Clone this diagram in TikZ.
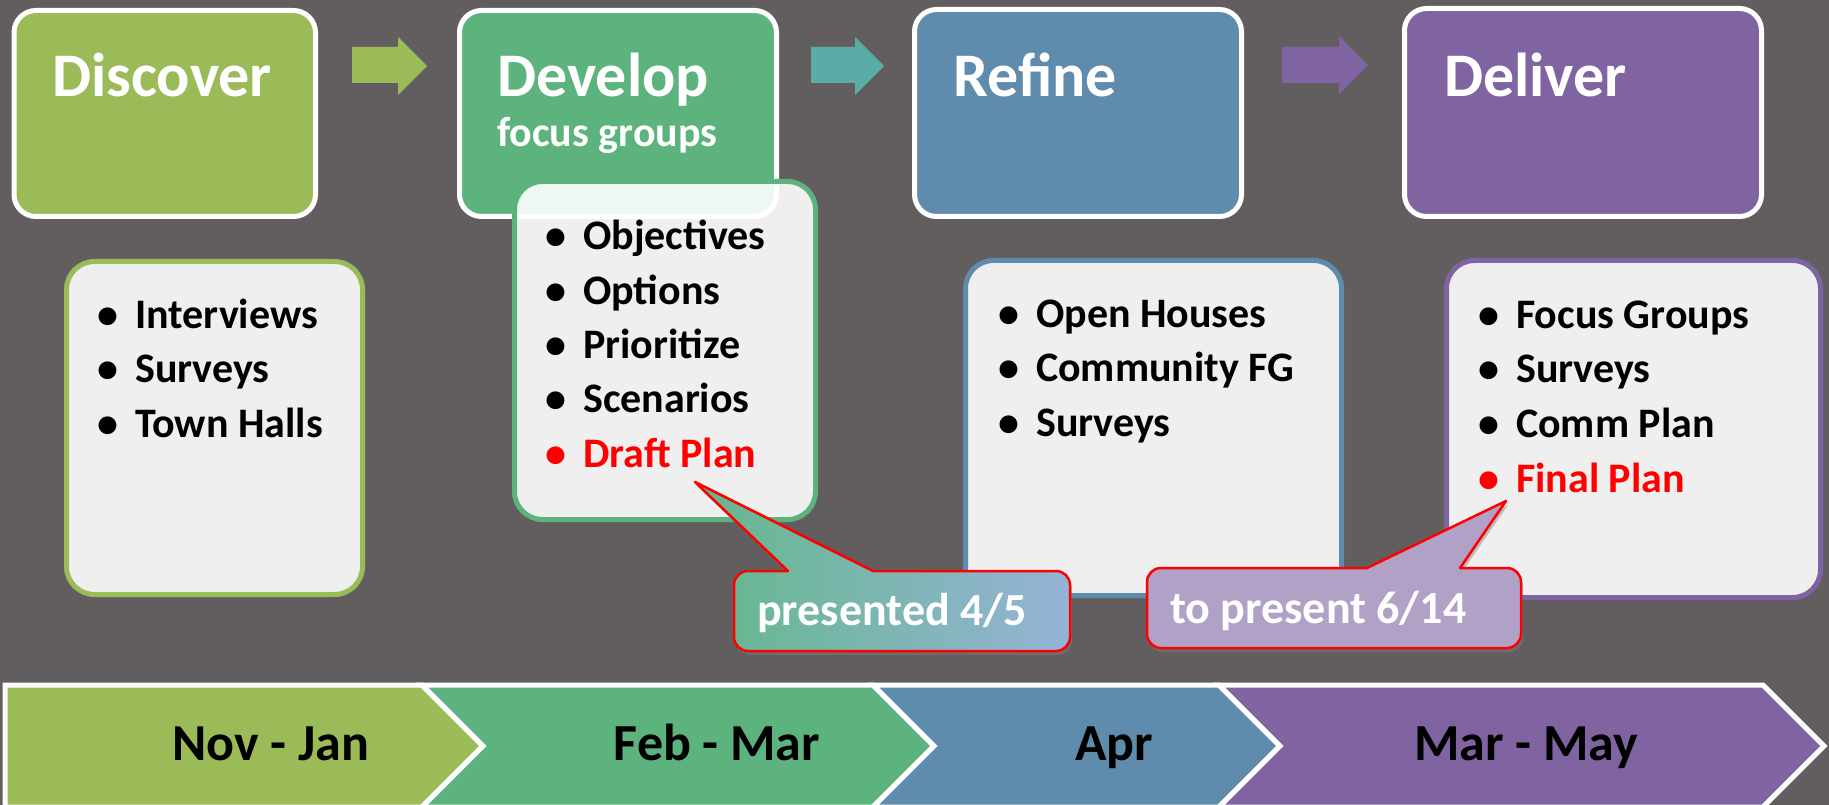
\documentclass[tikz,border=0pt]{standalone}
\usepackage{fontspec}
\setmainfont{Carlito}
\usetikzlibrary{shadows}
\definecolor{bgcol}{RGB}{98,94,95}
\definecolor{stageA}{RGB}{155,187,89}
\definecolor{stageB}{RGB}{93,179,126}
\definecolor{stageC}{RGB}{95,140,173}
\definecolor{stageD}{RGB}{128,100,162}
\definecolor{arrowB}{RGB}{90,173,166}
\definecolor{noteA}{RGB}{100,184,140}
\definecolor{noteB}{RGB}{149,179,215}
\definecolor{noteC}{RGB}{178,161,199}
\tikzset{
  stage/.style={draw=white, line width=5pt, rounded corners=22pt},
  listbox/.style={fill=white, fill opacity=0.9, line width=5pt, rounded corners=28pt},
  title/.style={text=white, font=\bfseries\fontsize{62}{62}\selectfont, anchor=base west, inner sep=0pt},
  item/.style={font=\bfseries\fontsize{42}{42}\selectfont, anchor=base west, inner sep=0pt,
    execute at begin node={\llap{\textbullet\hspace{17pt}}}},
  note/.style={draw=red, line width=2.5pt, line join=round,
    drop shadow={opacity=0.45, shadow xshift=2pt, shadow yshift=-4pt}},
  notetext/.style={text=white, font=\bfseries\fontsize{46}{46}\selectfont, anchor=base west, inner sep=0pt},
  chevron/.style={draw=white, line width=5pt},
  month/.style={font=\bfseries\fontsize{52}{52}\selectfont, anchor=base, inner sep=0pt}
}
\begin{document}
\begin{tikzpicture}[x=1pt, y=-1pt]
\useasboundingbox (0,0) rectangle (1829,805);
\fill[bgcol] (0,0) rectangle (1829,805);

% stage boxes and arrows
\draw[stage, fill=stageA] (14,10.5) rectangle (315.5,216.5);
\draw[stage, fill=stageB] (459.5,10.5) rectangle (776.5,216.5);
\draw[stage, fill=stageC] (914.5,9.5) rectangle (1241.5,216.5);
\draw[stage, fill=stageD] (1404.5,8.5) rectangle (1761.5,216.5);
\fill[stageA] (352,47) -- (398,47) -- (398,37) -- (427,66) -- (398,95) -- (398,83) -- (352,83) -- cycle;
\fill[arrowB] (811,47) -- (855,47) -- (855,37) -- (884,66) -- (855,95) -- (855,83) -- (811,83) -- cycle;
\fill[stageD] (1282,47) -- (1339,47) -- (1339,36) -- (1368,65) -- (1339,94) -- (1339,83) -- (1282,83) -- cycle;
\node[title] (discover) at (52,97) {Discover};
\node[title] (develop) at (497,97) {Develop};
\node[title, font=\bfseries\fontsize{42}{42}\selectfont] (focus) at (497,147) {focus groups};
\node[title] (refine) at (953,97) {Refine};
\node[title] (deliver) at (1444,97) {Deliver};

% lists
\draw[listbox, draw=stageA] (66.5,261.5) rectangle (362.5,594.5);
\draw[listbox, draw=stageB] (514.5,181.5) rectangle (815.5,519.5);
\draw[listbox, draw=stageC] (965.5,260.5) rectangle (1341.5,595.5);
\draw[listbox, draw=stageD] (1446.5,260.5) rectangle (1820.5,597.5);
\foreach \t [count=\i from 0] in {Interviews,Surveys,Town Halls}
  \node[item] (disc\i) at (135,328+54.5*\i) {\t};
\foreach \t [count=\i from 0] in {Objectives,Options,Prioritize,Scenarios}
  \node[item] (dev\i) at (583,250+54.3*\i) {\t};
\node[item, text=red] (draft) at (583,467) {Draft Plan};
\foreach \t [count=\i from 0] in {Open Houses,Community FG,Surveys}
  \node[item] (ref\i) at (1036,327+54.5*\i) {\t};
\foreach \t [count=\i from 0] in {Focus Groups,Surveys,Comm Plan}
  \node[item] (del\i) at (1516,328+54.5*\i) {\t};
\node[item, text=red] (final) at (1516,492) {Final Plan};

% callouts
\draw[note, left color=noteA, right color=noteB] (873,571) -- (1056,571) arc (-90:0:14) -- (1070,637) arc (0:90:14)
  -- (748,651) arc (90:180:14) -- (734,585) arc (180:270:14) -- (788,571) -- (695,482) -- cycle;
\node[notetext] (shown) at (757,625) {presented 4/5};
\draw[note, fill=noteC] (1460,568) -- (1507,568) arc (-90:0:14) -- (1521,634) arc (0:90:14)
  -- (1161,648) arc (90:180:14) -- (1147,582) arc (180:270:14) -- (1367,568) -- (1506,501) -- cycle;
\node[notetext] (toshow) at (1170,623) {to present 6/14};

% time line
\draw[chevron, fill=stageA] (5,685) -- (422,685) -- (483,746) -- (422,807) -- (5,807) -- cycle;
\draw[chevron, fill=stageB] (422,685) -- (873,685) -- (934,746) -- (873,807) -- (422,807) -- (483,746) -- cycle;
\draw[chevron, fill=stageC] (873,685) -- (1219,685) -- (1280,746) -- (1219,807) -- (873,807) -- (934,746) -- cycle;
\draw[chevron, fill=stageD] (1219,685) -- (1763,685) -- (1824,746) -- (1763,807) -- (1219,807) -- (1280,746) -- cycle;
\node[month] (m1) at (271,760) {Nov - Jan};
\node[month] (m2) at (717,760) {Feb - Mar};
\node[month] (m3) at (1114,760) {Apr};
\node[month] (m4) at (1526,760) {Mar - May};
\end{tikzpicture}
\end{document}
